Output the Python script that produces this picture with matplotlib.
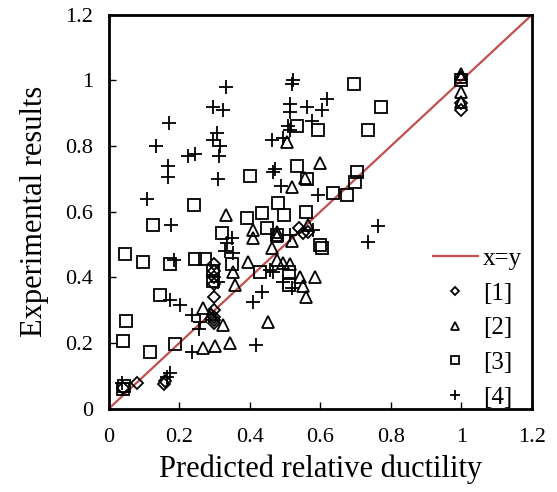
import matplotlib.pyplot as plt

plt.rcParams['font.family'] = ['Liberation Serif', 'DejaVu Serif']

# [1]
x1 = [0.04, 0.08, 0.16, 0.157, 0.30, 0.30, 0.30, 0.30, 0.30, 0.30, 0.30, 0.30, 0.30,
      0.54, 0.55, 0.565, 1.0, 1.0]
y1 = [0.065, 0.08, 0.085, 0.076, 0.44, 0.42, 0.40, 0.38, 0.34, 0.30, 0.28, 0.27, 0.26,
      0.55, 0.535, 0.54, 0.93, 0.91]

# [2]
x2 = [1.0, 1.0, 1.0, 1.0, 0.506, 0.60, 0.557, 0.52, 0.566, 0.333, 0.41, 0.41, 0.477,
      0.477, 0.52, 0.463, 0.396, 0.353, 0.358, 0.477, 0.494, 0.514, 0.543, 0.552,
      0.585, 0.56, 0.452, 0.268, 0.29, 0.324, 0.344, 0.302, 0.268]
y2 = [1.02, 1.01, 0.965, 0.935, 0.814, 0.75, 0.704, 0.677, 0.56, 0.59, 0.546, 0.52, 0.537,
      0.525, 0.51, 0.49, 0.448, 0.418, 0.378, 0.454, 0.445, 0.44, 0.40, 0.375,
      0.403, 0.341, 0.265, 0.308, 0.29, 0.256, 0.20, 0.19, 0.186]

# [3]
x3 = [0.047, 0.098, 0.174, 0.245, 0.273, 0.146, 0.05, 0.042, 0.116, 0.188, 0.35, 0.43,
      0.32, 0.042, 0.045, 0.40, 0.242, 0.127, 0.392, 0.435, 0.48, 0.497, 0.534, 0.449,
      0.477, 0.696, 0.772, 0.735, 0.534, 0.593, 0.562, 0.704, 0.699, 0.637, 0.675,
      0.56, 0.60, 0.605, 0.51, 0.51, 0.295, 0.295, 1.0]
y3 = [0.47, 0.448, 0.44, 0.457, 0.457, 0.348, 0.268, 0.207, 0.174, 0.198, 0.44, 0.418,
      0.536, 0.06, 0.07, 0.71, 0.62, 0.56, 0.582, 0.597, 0.628, 0.59, 0.741, 0.552,
      0.53, 0.99, 0.92, 0.85, 0.86, 0.85, 0.70, 0.72, 0.69, 0.658, 0.65,
      0.60, 0.50, 0.49, 0.418, 0.378, 0.42, 0.39, 1.0]

# [4]
x4 = [0.333, 0.296, 0.324, 0.17, 0.135, 0.225, 0.245, 0.169, 0.169, 0.307, 0.296, 0.316,
      0.313, 0.31, 0.11, 0.177, 0.523, 0.52, 0.514, 0.514, 0.562, 0.619, 0.605, 0.576,
      0.508, 0.514, 0.463, 0.494, 0.471, 0.466, 0.49, 0.594, 0.763, 0.735,
      0.184, 0.174, 0.203, 0.236, 0.26, 0.257, 0.236, 0.174, 0.165, 0.41, 0.434, 0.418,
      0.336, 0.35, 0.353, 0.33, 0.038, 0.31, 0.466, 0.494, 0.52, 0.514, 0.58, 0.457]
y4 = [0.98, 0.92, 0.91, 0.87, 0.80, 0.77, 0.777, 0.74, 0.707, 0.84, 0.82, 0.80,
      0.77, 0.70, 0.64, 0.56, 1.0, 0.988, 0.927, 0.905, 0.92, 0.942, 0.91, 0.875,
      0.86, 0.85, 0.82, 0.826, 0.729, 0.72, 0.68, 0.65, 0.558, 0.509,
      0.454, 0.332, 0.317, 0.287, 0.265, 0.244, 0.174, 0.11, 0.098, 0.326, 0.357, 0.195,
      0.506, 0.521, 0.476, 0.48, 0.08, 0.387, 0.418, 0.387, 0.369, 0.53, 0.546, 0.424]

ticks = [0, 0.2, 0.4, 0.6, 0.8, 1.0, 1.2]
tick_labels = ['0', '0.2', '0.4', '0.6', '0.8', '1', '1.2']

fig = plt.figure(figsize=(5.57, 4.92), dpi=100)
ax = fig.add_axes([0.195, 0.169, 0.76, 0.801])

ax.plot([0, 1.2], [0, 1.2], color='#C0504D', lw=1.6, label='x=y', zorder=1)

mk = dict(ls='none', mfc='none', mec='black', mew=1.3, color='black')
ax.plot(x1, y1, marker='D', ms=6, label='[1]', **mk)
ax.plot(x2, y2, marker='^', ms=9, label='[2]', **mk)
ax.plot(x3, y3, marker='s', ms=8.5, label='[3]', **mk)
ax.plot(x4, y4, marker='+', ms=9.5, label='[4]', **mk)

ax.set_xlim(0, 1.2)
ax.set_ylim(0, 1.2)
ax.set_xticks(ticks)
ax.set_xticklabels(tick_labels)
ax.set_yticks(ticks)
ax.set_yticklabels(tick_labels)
ax.tick_params(direction='in', length=5, width=1, labelsize=16)
ax.tick_params(axis='x', pad=14)
ax.tick_params(axis='y', pad=11)
for s in ax.spines.values():
    s.set_linewidth(2)

ax.set_xlabel('Predicted relative ductility', fontsize=22, labelpad=5)
ax.set_ylabel('Experimental results', fontsize=22, labelpad=12)

ax.legend(loc='lower right', bbox_to_anchor=(0.976, 0.0), frameon=False, fontsize=18,
          markerscale=0.7, handlelength=1.8, labelspacing=0.49, borderaxespad=0.0,
          borderpad=0.0, handletextpad=0.2)

fig.savefig('out.png', dpi=100)
